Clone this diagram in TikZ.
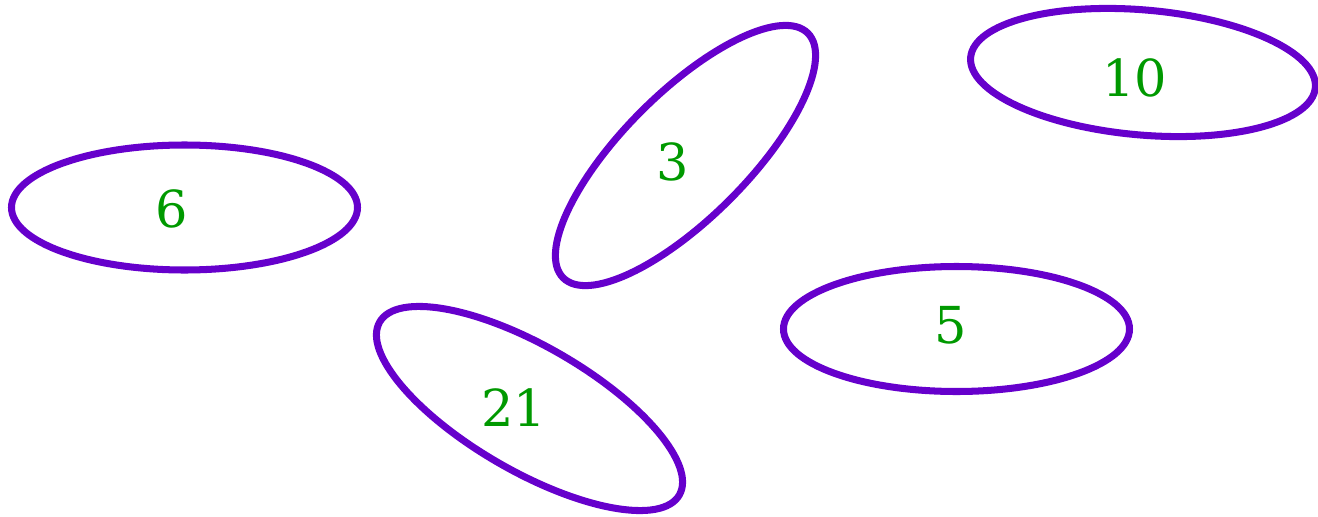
\documentclass[tikz,border=0pt]{standalone}
\usepackage{fontspec}
\setmainfont{DejaVu Serif}
\usetikzlibrary{shapes.geometric}
\definecolor{ringpurple}{HTML}{6600CC}
\definecolor{numgreen}{HTML}{009900}

\begin{document}
\begin{tikzpicture}[
      every node/.style={font=\fontsize{14.5}{16}\selectfont},
      ring/.style={
        ellipse, draw=ringpurple, line width=2pt, inner sep=0pt,
        minimum width=3.46cm, minimum height=1.25cm
      },
      numlabel/.style={
        text=numgreen, inner sep=0pt
      }
    ]
    \useasboundingbox (0,0) rectangle (13.18,5.16);

    % ===== The five rings =====
    \node[ring] (r6) at (1.845, 3.085) {};
    \node[ring, rotate=45] (r3) at (6.855, 3.605) {};
    \node[ring, rotate=-5] (r10) at (11.43, 4.435) {};
    \node[ring] (r5) at (9.565, 1.87) {};
    \node[ring, rotate=-30] (r21) at (5.295, 1.075) {};

    % ===== Their numbers =====
    \node[numlabel] (n6) at (1.72, 3.07) {6};
    \node[numlabel] (n3) at (6.73, 3.54) {3};
    \node[numlabel] (n10) at (11.35, 4.385) {10};
    \node[numlabel] (n5) at (9.51, 1.91) {5};
    \node[numlabel] (n21) at (5.14, 1.08) {21};
  \end{tikzpicture}
\end{document}
